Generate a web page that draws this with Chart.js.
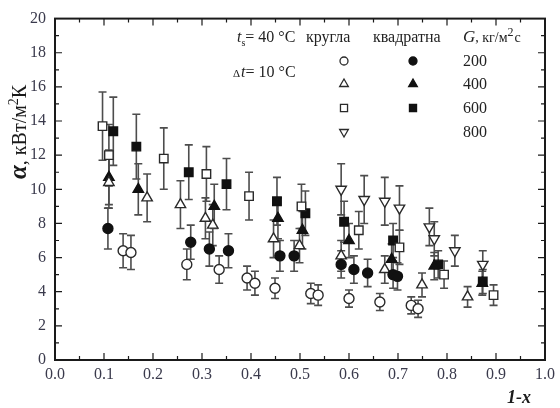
<!DOCTYPE html>
<html>
<head>
<meta charset="utf-8">
<script src="https://cdn.jsdelivr.net/npm/chart.js@4.4.0/dist/chart.umd.min.js"></script>
<style>
  html, body { margin: 0; padding: 0; background: #fff; }
</style>
</head>
<body>
<canvas id="chart" width="560" height="408"></canvas>
<script>
// дані (1-x, α кВт/м2К, похибка)
const xTicks = [0, 0.1, 0.2, 0.3, 0.4, 0.5, 0.6, 0.7, 0.8, 0.9, 1.0];
const yTicks = [0, 2, 4, 6, 8, 10, 12, 14, 16, 18, 20];

// кругла, G = 200
const round200X = [0.139, 0.155, 0.269, 0.335, 0.392, 0.408, 0.449, 0.522, 0.537, 0.600, 0.663, 0.727, 0.741];
const round200Y = [6.4, 6.3, 5.6, 5.3, 4.8, 4.5, 4.2, 3.9, 3.8, 3.6, 3.4, 3.2, 3.0];
const round200E = [1.0, 1.0, 0.9, 0.8, 0.7, 0.7, 0.6, 0.6, 0.6, 0.5, 0.5, 0.5, 0.5];
// квадратна, G = 200
const square200X = [0.108, 0.277, 0.315, 0.354, 0.459, 0.488, 0.584, 0.610, 0.638, 0.690, 0.699];
const square200Y = [7.7, 6.9, 6.5, 6.4, 6.1, 6.1, 5.6, 5.3, 5.1, 5.0, 4.9];
const square200E = [1.2, 1.0, 1.0, 1.0, 0.9, 0.9, 0.8, 0.8, 0.8, 0.8, 0.8];
// кругла, G = 400
const round400X = [0.110, 0.188, 0.256, 0.307, 0.322, 0.446, 0.499, 0.584, 0.673, 0.749, 0.842];
const round400Y = [10.4, 9.5, 9.1, 8.3, 7.9, 7.1, 6.7, 6.1, 5.3, 4.4, 3.7];
const round400E = [1.5, 1.4, 1.4, 1.2, 1.2, 1.1, 1.0, 0.9, 0.8, 0.7, 0.6];
// квадратна, G = 400
const square400X = [0.110, 0.170, 0.325, 0.455, 0.505, 0.600, 0.687, 0.774, 0.872];
const square400Y = [10.7, 10.0, 9.0, 8.3, 7.6, 7.0, 5.9, 5.5, 4.5];
const square400E = [1.6, 1.5, 1.3, 1.2, 1.1, 1.0, 0.9, 0.8, 0.7];
// кругла, G = 600
const round600X = [0.097, 0.110, 0.222, 0.309, 0.396, 0.503, 0.620, 0.703, 0.794, 0.895];
const round600Y = [13.7, 12.0, 11.8, 10.9, 9.6, 9.0, 7.6, 6.6, 5.0, 3.8];
const round600E = [2.0, 1.8, 1.8, 1.6, 1.4, 1.3, 1.1, 1.0, 0.8, 0.6];
// квадратна, G = 600
const square600X = [0.119, 0.166, 0.273, 0.350, 0.453, 0.511, 0.590, 0.690, 0.782, 0.873];
const square600Y = [13.4, 12.5, 11.0, 10.3, 9.3, 8.6, 8.1, 7.0, 5.6, 4.6];
const square600E = [2.0, 1.9, 1.6, 1.5, 1.4, 1.3, 1.2, 1.0, 0.8, 0.7];
// кругла, G = 800
const round800X = [0.584, 0.631, 0.673, 0.703, 0.764, 0.774, 0.816, 0.873];
const round800Y = [10.0, 9.4, 9.3, 8.9, 7.8, 7.1, 6.4, 5.6];
const round800E = [1.5, 1.4, 1.4, 1.3, 1.1, 1.0, 0.9, 0.8];

const SERIF = "'Liberation Serif', 'DejaVu Serif', serif";
const INK = '#1a1a1a';

function pts(xs, ys) {
  return xs.map((x, i) => ({ x: x, y: ys[i] }));
}

function series(label, xs, ys, errs, style, filled, radius, rotation) {
  return {
    label: label,
    data: pts(xs, ys),
    err: errs,
    pointStyle: style,
    pointRotation: rotation || 0,
    pointRadius: radius,
    pointHoverRadius: radius,
    pointBackgroundColor: filled ? '#111' : '#fff',
    pointBorderColor: filled ? '#111' : '#2a2a2a',
    pointBorderWidth: 1.4,
    showLine: false
  };
}

// похибки
const errorBars = {
  id: 'errorBars',
  beforeDatasetsDraw(chart) {
    const ctx = chart.ctx;
    const xs = chart.scales.x, ys = chart.scales.y;
    ctx.save();
    ctx.strokeStyle = '#4d4d4d';
    ctx.lineWidth = 1.6;
    chart.data.datasets.forEach(ds => {
      ds.data.forEach((p, i) => {
        const e = ds.err[i];
        const px = xs.getPixelForValue(p.x);
        const top = ys.getPixelForValue(p.y + e);
        const bot = ys.getPixelForValue(p.y - e);
        ctx.beginPath();
        ctx.moveTo(px, top); ctx.lineTo(px, bot);
        ctx.moveTo(px - 4, top); ctx.lineTo(px + 4, top);
        ctx.moveTo(px - 4, bot); ctx.lineTo(px + 4, bot);
        ctx.stroke();
      });
    });
    ctx.restore();
  }
};

function drawRuns(ctx, x, y, runs) {
  runs.forEach(r => {
    ctx.font = r.font;
    ctx.fillText(r.t, x, y + (r.dy || 0));
    x += ctx.measureText(r.t).width + (r.gap || 0);
  });
  return x;
}

// рамка, внутрішні риски, підписи осей та легенда
const decorations = {
  id: 'decorations',
  afterDraw(chart) {
    const ctx = chart.ctx;
    const a = chart.chartArea;
    const xs = chart.scales.x, ys = chart.scales.y;
    ctx.save();
    ctx.strokeStyle = INK;
    ctx.lineWidth = 2;
    ctx.strokeRect(a.left, a.top, a.right - a.left, a.bottom - a.top);

    ctx.lineWidth = 1.2;
    ctx.beginPath();
    for (let i = 1; i < 20; i++) {
      const px = xs.getPixelForValue(i * 0.05);
      const len = i % 2 === 0 ? 7 : 4;
      ctx.moveTo(px, a.bottom); ctx.lineTo(px, a.bottom - len);
      ctx.moveTo(px, a.top); ctx.lineTo(px, a.top + len);
    }
    for (let i = 1; i < 20; i++) {
      const py = ys.getPixelForValue(i);
      const len = i % 2 === 0 ? 7 : 4;
      ctx.moveTo(a.left, py); ctx.lineTo(a.left + len, py);
      ctx.moveTo(a.right, py); ctx.lineTo(a.right - len, py);
    }
    ctx.stroke();

    // назва осі x
    ctx.fillStyle = INK;
    ctx.textBaseline = 'alphabetic';
    ctx.textAlign = 'left';
    ctx.font = 'italic bold 18px ' + SERIF;
    ctx.fillText('1-x', 507, 403);

    // назва осі y
    ctx.save();
    ctx.translate(26, 179);
    ctx.rotate(-Math.PI / 2);
    drawRuns(ctx, 0, 0, [
      { t: 'α', font: 'italic bold 25px ' + SERIF },
      { t: ', кВт/м', font: '20px ' + SERIF },
      { t: '2', font: '14px ' + SERIF, dy: -8 },
      { t: 'К', font: '20px ' + SERIF }
    ]);
    ctx.restore();

    // умови досліду
    ctx.fillStyle = '#222';
    drawRuns(ctx, 237, 42, [
      { t: 't', font: 'italic 16px ' + SERIF },
      { t: 's', font: '10px ' + SERIF, dy: 4 },
      { t: '= 40 °C', font: '16px ' + SERIF }
    ]);
    drawRuns(ctx, 233, 77, [
      { t: 'Δ', font: '11px ' + SERIF, gap: 1 },
      { t: 't', font: 'italic 16px ' + SERIF },
      { t: '= 10 °C', font: '16px ' + SERIF }
    ]);

    // легенда
    ctx.font = '16px ' + SERIF;
    ctx.fillText('кругла', 306, 42);
    ctx.fillText('квадратна', 373, 42);
    drawRuns(ctx, 463, 42, [
      { t: 'G', font: 'italic 17px ' + SERIF },
      { t: ', кг/м', font: '14px ' + SERIF },
      { t: '2', font: '12px ' + SERIF, dy: -6, gap: 1 },
      { t: 'с', font: '14px ' + SERIF }
    ]);
    ctx.font = '16px ' + SERIF;
    const rowsY = [61, 84, 108, 132];
    const gValues = ['200', '400', '600', '800'];
    gValues.forEach((g, i) => ctx.fillText(g, 463, rowsY[i] + 5));

    const ds = chart.data.datasets;
    const legendMarks = [
      [ds[0], 344, rowsY[0]], [ds[1], 413, rowsY[0]],
      [ds[2], 344, rowsY[1]], [ds[3], 413, rowsY[1]],
      [ds[4], 344, rowsY[2]], [ds[5], 413, rowsY[2]],
      [ds[6], 344, rowsY[3]]
    ];
    legendMarks.forEach(m => {
      const d = m[0];
      ctx.fillStyle = d.pointBackgroundColor;
      ctx.strokeStyle = d.pointBorderColor;
      ctx.lineWidth = 1.3;
      Chart.helpers.drawPoint(ctx, {
        pointStyle: d.pointStyle,
        rotation: d.pointRotation,
        radius: d.pointRadius - 1,
        borderWidth: 1.3
      }, m[1], m[2]);
    });
    ctx.restore();
  }
};

const ctx = document.getElementById('chart');
new Chart(ctx, {
  type: 'scatter',
  data: {
    datasets: [
      series('кругла 200', round200X, round200Y, round200E, 'circle', false, 5),
      series('квадратна 200', square200X, square200Y, square200E, 'circle', true, 5),
      series('кругла 400', round400X, round400Y, round400E, 'triangle', false, 6),
      series('квадратна 400', square400X, square400Y, square400E, 'triangle', true, 6),
      series('кругла 600', round600X, round600Y, round600E, 'rect', false, 6),
      series('квадратна 600', square600X, square600Y, square600E, 'rect', true, 6),
      series('кругла 800', round800X, round800Y, round800E, 'triangle', false, 6, 180)
    ]
  },
  options: {
    responsive: false,
    animation: false,
    layout: { padding: { top: 15, right: 10, left: 0, bottom: 0 } },
    plugins: {
      legend: { display: false },
      tooltip: { enabled: false }
    },
    scales: {
      x: {
        type: 'linear',
        min: 0,
        max: 1,
        afterFit(s) { s.height = 48; },
        afterBuildTicks(s) { s.ticks = xTicks.map(v => ({ value: v })); },
        grid: { display: false, drawTicks: false },
        border: { display: false },
        ticks: {
          padding: 5,
          color: '#3a3a4c',
          font: { family: SERIF, size: 16 },
          callback: v => v.toFixed(1)
        }
      },
      y: {
        type: 'linear',
        min: 0,
        max: 20,
        afterFit(s) { s.width = 55; },
        afterBuildTicks(s) { s.ticks = yTicks.map(v => ({ value: v })); },
        grid: { display: false, drawTicks: false },
        border: { display: false },
        ticks: {
          padding: 9,
          color: '#3a3a4c',
          font: { family: SERIF, size: 16 }
        }
      }
    }
  },
  plugins: [errorBars, decorations]
});
</script>
</body>
</html>
